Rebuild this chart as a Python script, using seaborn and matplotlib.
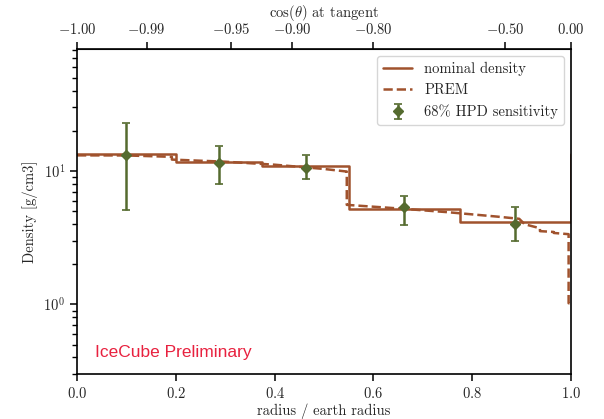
import numpy as np
import pandas as pd
import matplotlib
matplotlib.use('Agg')
import matplotlib.pyplot as plt
import matplotlib.ticker as mticker
import seaborn as sns

# nominal density steps (bin edges in r/R_earth)
nominal_r = [0.0, 0.2, 0.375, 0.55, 0.775, 1.0]
nominal_rho = [13.3, 11.7, 10.8, 5.2, 4.15, 13.3]

# PREM profile
prem_r = [0.0, 0.1, 0.192, 0.192, 0.3, 0.4, 0.5, 0.546, 0.546, 0.65, 0.75,
          0.85, 0.895, 0.906, 0.937, 0.937, 0.965, 0.965, 0.995, 0.995, 1.0]
prem_rho = [13.09, 13.07, 12.76, 12.17, 11.73, 11.14, 10.35, 9.90, 5.57, 5.24,
            4.91, 4.55, 4.38, 3.99, 3.72, 3.54, 3.49, 3.43, 3.36, 1.02, 1.02]

# 68% HPD sensitivity points
hpd_r = [0.1, 0.2875, 0.4625, 0.6625, 0.8875]
hpd_rho = [13.2, 11.4, 10.5, 5.39, 4.0]
hpd_lo = [5.1, 7.95, 8.7, 3.93, 2.99]
hpd_hi = [22.9, 15.5, 13.1, 6.49, 5.39]

# top axis ticks: cos(theta) at tangent
cos_ticks = [-1.00, -0.99, -0.95, -0.90, -0.80, -0.50, 0.00]

sns.set_style('ticks')
plt.rcParams['font.family'] = ['cmr10']
plt.rcParams['mathtext.fontset'] = 'cm'
plt.rcParams['axes.formatter.use_mathtext'] = True
plt.rcParams['axes.unicode_minus'] = True
plt.rcParams['font.size'] = 10.5

fig = plt.figure(figsize=(6.04, 4.19), dpi=100)
ax = fig.add_axes([0.1275, 0.107, 0.818, 0.776])

brown = 'sienna'
green = 'darkolivegreen'

nom = pd.DataFrame({'r': nominal_r, 'rho': nominal_rho})
prem = pd.DataFrame({'r': prem_r, 'rho': prem_rho})

sns.lineplot(data=nom, x='r', y='rho', ax=ax, color=brown, lw=1.8,
             drawstyle='steps-post', estimator=None, sort=False,
             label='nominal density')
sns.lineplot(data=prem, x='r', y='rho', ax=ax, color=brown, lw=1.8,
             linestyle='--', estimator=None, sort=False, label='PREM')

yerr = [np.array(hpd_rho) - np.array(hpd_lo), np.array(hpd_hi) - np.array(hpd_rho)]
ax.errorbar(hpd_r, hpd_rho, yerr=yerr, fmt='D', color=green, ms=5.5,
            elinewidth=1.8, capsize=3, capthick=1.2,
            label='68% HPD sensitivity')

ax.set_yscale('log')
ax.set_xlim(0, 1)
ax.set_ylim(0.3, 82)
ax.set_xlabel('radius / earth radius', labelpad=2)
ax.set_ylabel('Density [g/cm3]')
ax.set_xticks([0.0, 0.2, 0.4, 0.6, 0.8, 1.0])
ax.set_xticklabels(['$%.1f$' % v for v in [0.0, 0.2, 0.4, 0.6, 0.8, 1.0]])

# log minor ticks on the density axis
ax.yaxis.set_minor_locator(mticker.LogLocator(base=10, subs=np.arange(2, 10), numticks=20))
ax.yaxis.set_minor_formatter(mticker.NullFormatter())
ax.tick_params(axis='y', which='minor', left=True, length=3.5, width=1.0, color='black')
ax.tick_params(which='major', length=5, width=1.1, color='black')

for s in ax.spines.values():
    s.set_color('black')
    s.set_linewidth(1.2)

ax.legend(loc='upper right', fontsize=10.5, frameon=True, fancybox=True)

ax.text(0.036, 0.068, 'IceCube Preliminary', transform=ax.transAxes,
        color='#e8213f', fontsize=12.5, family=['Liberation Sans', 'DejaVu Sans'],
        va='center', ha='left')


def r_to_cos(r):
    return -np.sqrt(np.clip(1 - np.asarray(r) ** 2, 0, None))


def cos_to_r(c):
    return np.sqrt(np.clip(1 - np.asarray(c) ** 2, 0, None))


top = ax.secondary_xaxis('top', functions=(r_to_cos, cos_to_r))
top.set_xticks(cos_ticks)
top.set_xticklabels(['$%.2f$' % c for c in cos_ticks])
top.xaxis.set_minor_locator(mticker.NullLocator())
top.tick_params(which='major', length=5, width=1.1, color='black')
top.set_xlabel(r'$\cos(\theta)$ at tangent')

fig.savefig('out.png', dpi=100)
